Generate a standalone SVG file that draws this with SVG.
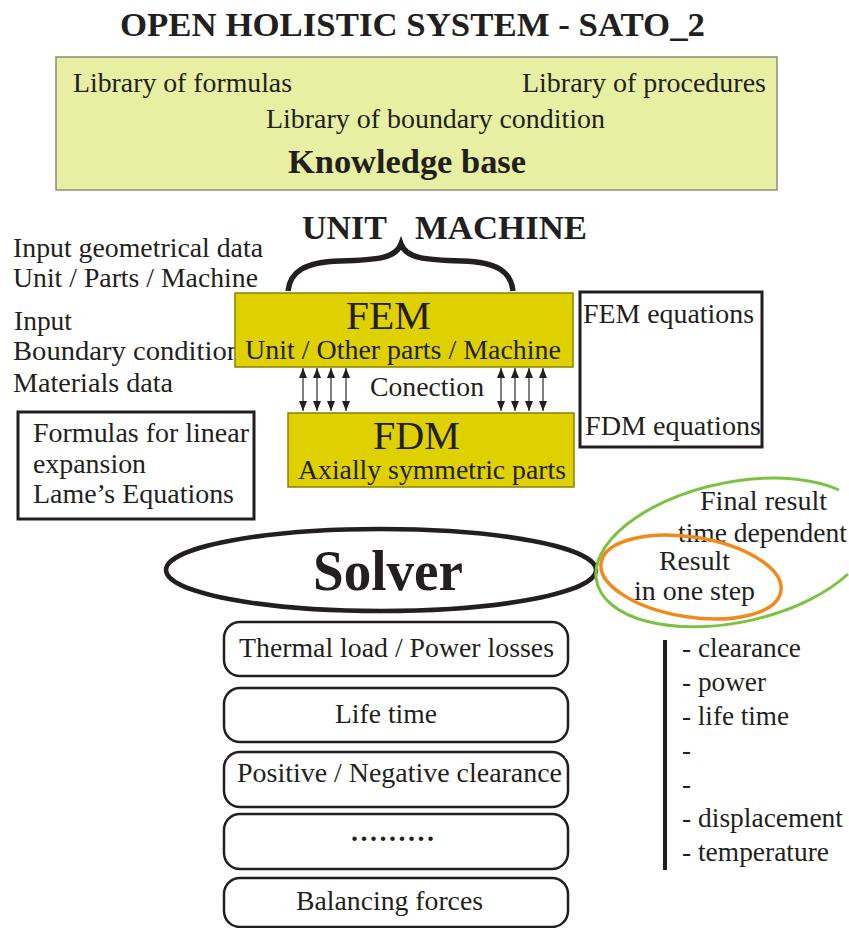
<svg xmlns="http://www.w3.org/2000/svg" width="849" height="928" viewBox="0 0 849 928">
<defs>
<style>
text{font-family:"Liberation Serif","Times New Roman",serif;fill:#231f20}
.b{font-weight:bold}
.t27{font-size:28px}
.t26{font-size:28px}
.t25{font-size:27px}
.box{fill:#fff;stroke:#231f20;stroke-width:3}
.yel{fill:#dfd000;stroke:#8c8000;stroke-width:1.5}
.rr{fill:#fff;stroke:#231f20;stroke-width:2.5}
.conn{stroke:#555;stroke-width:1.5;fill:none;marker-start:url(#ah);marker-end:url(#ah)}
</style>
<marker id="ah" viewBox="0 0 10 8" refX="10" refY="4" markerWidth="10" markerHeight="8" markerUnits="userSpaceOnUse" orient="auto-start-reverse">
<path d="M0,0 L10,4 L0,8 Z" fill="#231f20"/>
</marker>
</defs>
<rect width="849" height="928" fill="#fff"/>

<text class="b" x="120" y="36" font-size="34.5" textLength="585" lengthAdjust="spacingAndGlyphs">OPEN HOLISTIC SYSTEM - SATO_2</text>

<g id="knowledge-base">
<rect x="56" y="57" width="721" height="133" fill="#e7efa3" stroke="#8c8c78" stroke-width="1.5"/>
<text class="t26" x="73" y="92" textLength="219" lengthAdjust="spacingAndGlyphs">Library of formulas</text>
<text class="t26" x="522" y="92" textLength="244" lengthAdjust="spacingAndGlyphs">Library of procedures</text>
<text class="t26" x="266" y="128" textLength="339" lengthAdjust="spacingAndGlyphs">Library of boundary condition</text>
<text class="b" x="288" y="173" font-size="33" textLength="238" lengthAdjust="spacingAndGlyphs">Knowledge base</text>
</g>

<g id="unit-machine">
<text class="b" x="302" y="239" font-size="33" textLength="85" lengthAdjust="spacingAndGlyphs">UNIT</text>
<text class="b" x="415" y="239" font-size="33" textLength="172" lengthAdjust="spacingAndGlyphs">MACHINE</text>
<path d="M288 291 C290 272 304 262 340 261 C378 260 396 258 401 244 C406 258 424 260 462 261 C498 262 511 272 513 291" fill="none" stroke="#231f20" stroke-width="5.5"/>
</g>

<g id="inputs">
<text class="t27" x="13" y="257" textLength="250" lengthAdjust="spacingAndGlyphs">Input geometrical data</text>
<text class="t27" x="13" y="287" textLength="245" lengthAdjust="spacingAndGlyphs">Unit / Parts / Machine</text>
<text class="t27" x="14" y="330" textLength="58" lengthAdjust="spacingAndGlyphs">Input</text>
<text class="t27" x="13" y="360" textLength="228" lengthAdjust="spacingAndGlyphs">Boundary condition</text>
<text class="t27" x="13" y="392" textLength="160" lengthAdjust="spacingAndGlyphs">Materials data</text>
</g>

<g id="fem">
<rect class="yel" x="235" y="293" width="338" height="74"/>
<text x="346" y="329" font-size="39" textLength="85" lengthAdjust="spacingAndGlyphs">FEM</text>
<text class="t27" x="245" y="359" textLength="316" lengthAdjust="spacingAndGlyphs">Unit / Other parts / Machine</text>
</g>

<g id="fdm">
<rect class="yel" x="288" y="413" width="286" height="74"/>
<text x="373" y="449" font-size="39" textLength="87" lengthAdjust="spacingAndGlyphs">FDM</text>
<text class="t27" x="298" y="479" textLength="268" lengthAdjust="spacingAndGlyphs">Axially symmetric parts</text>
</g>

<g id="connectors">
<line class="conn" x1="303" y1="368" x2="303" y2="411"/>
<line class="conn" x1="317" y1="368" x2="317" y2="411"/>
<line class="conn" x1="331" y1="368" x2="331" y2="411"/>
<line class="conn" x1="346" y1="368" x2="346" y2="411"/>
<line class="conn" x1="501" y1="368" x2="501" y2="411"/>
<line class="conn" x1="515" y1="368" x2="515" y2="411"/>
<line class="conn" x1="529" y1="368" x2="529" y2="411"/>
<line class="conn" x1="543" y1="368" x2="543" y2="411"/>
<text class="t27" x="370" y="396" textLength="114" lengthAdjust="spacingAndGlyphs">Conection</text>
</g>

<g id="equations">
<rect class="box" x="580" y="292" width="182" height="155"/>
<text class="t26" x="583" y="323" textLength="171" lengthAdjust="spacingAndGlyphs">FEM equations</text>
<text class="t26" x="585" y="435" textLength="176" lengthAdjust="spacingAndGlyphs">FDM equations</text>
</g>

<g id="formulas">
<rect class="box" x="18" y="412" width="236" height="107"/>
<text class="t27" x="33" y="442" textLength="216" lengthAdjust="spacingAndGlyphs">Formulas for linear</text>
<text class="t27" x="33" y="473" textLength="113" lengthAdjust="spacingAndGlyphs">expansion</text>
<text class="t27" x="33" y="503" textLength="201" lengthAdjust="spacingAndGlyphs">Lame’s Equations</text>
</g>

<g id="solver">
<ellipse cx="381" cy="570" rx="215" ry="41" fill="none" stroke="#231f20" stroke-width="4.5"/>
<text class="b" x="313" y="590" font-size="57" textLength="150" lengthAdjust="spacingAndGlyphs">Solver</text>
</g>

<g id="final-result">
<text class="t26" x="700" y="510" textLength="127" lengthAdjust="spacingAndGlyphs">Final result</text>
<text x="678" y="542" font-size="27" textLength="169" lengthAdjust="spacingAndGlyphs">time dependent</text>
<path d="M839 490 A140 70 -12 1 0 848 574" fill="none" stroke="#7cc242" stroke-width="3"/>
</g>

<g id="one-step">
<ellipse cx="691" cy="577" rx="91" ry="40" transform="rotate(9 691 577)" fill="none" stroke="#f08a1d" stroke-width="3.5"/>
<text x="659" y="570" font-size="27" textLength="71" lengthAdjust="spacingAndGlyphs">Result</text>
<text class="t26" x="634" y="600" textLength="121" lengthAdjust="spacingAndGlyphs">in one step</text>
</g>

<g id="thermal">
<rect class="rr" x="224" y="622" width="344" height="54" rx="16"/>
<text class="t27" x="239" y="657" textLength="315" lengthAdjust="spacingAndGlyphs">Thermal load / Power losses</text>
</g>
<g id="life">
<rect class="rr" x="224" y="688" width="344" height="54" rx="16"/>
<text class="t27" x="335" y="723" textLength="102" lengthAdjust="spacingAndGlyphs">Life time</text>
</g>
<g id="clearance">
<rect class="rr" x="224" y="752" width="344" height="55" rx="16"/>
<text class="t27" x="237" y="782" textLength="325" lengthAdjust="spacingAndGlyphs">Positive / Negative clearance</text>
</g>
<g id="dots">
<rect class="rr" x="224" y="814" width="344" height="55" rx="16"/>
<text class="b t27" x="351" y="841" textLength="83">.........</text>
</g>
<g id="balancing">
<rect class="rr" x="224" y="878" width="344" height="49" rx="16"/>
<text class="t27" x="296" y="910" textLength="187" lengthAdjust="spacingAndGlyphs">Balancing forces</text>
</g>

<g id="results-list">
<line x1="665" y1="640" x2="665" y2="870" stroke="#231f20" stroke-width="4"/>
<text class="t25" x="682" y="657" textLength="119" lengthAdjust="spacingAndGlyphs">- clearance</text>
<text class="t25" x="682" y="691" textLength="84" lengthAdjust="spacingAndGlyphs">- power</text>
<text class="t25" x="682" y="725" textLength="107" lengthAdjust="spacingAndGlyphs">- life time</text>
<text class="t25" x="682" y="759">-</text>
<text class="t25" x="682" y="793">-</text>
<text class="t25" x="682" y="827" textLength="161" lengthAdjust="spacingAndGlyphs">- displacement</text>
<text class="t25" x="682" y="861" textLength="147" lengthAdjust="spacingAndGlyphs">- temperature</text>
</g>
</svg>
